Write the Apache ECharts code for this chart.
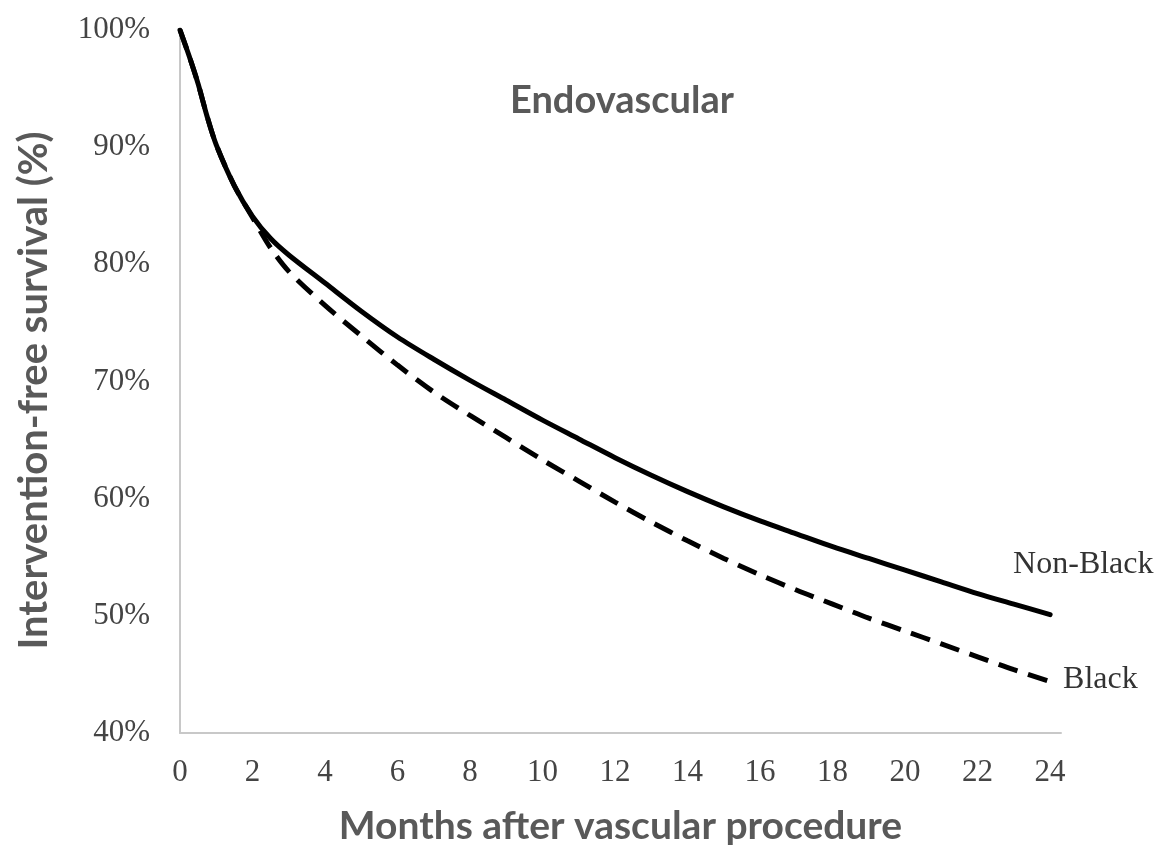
<!DOCTYPE html>
<html>
<head>
<meta charset="utf-8">
<script src="https://cdn.jsdelivr.net/npm/echarts@6/dist/echarts.min.js"></script>
<style>
  html, body { margin: 0; padding: 0; background: #fff; }
  #chart { width: 1164px; height: 849px; }
</style>
</head>
<body>
<div id="chart"></div>
<script>
// Months after the procedure at which survival is sampled
const months = [0, 0.25, 0.5, 0.75, 1, 1.5, 2, 2.5, 3, 4, 5, 6, 7, 8, 9, 10, 11, 12,
                13, 14, 15, 16, 17, 18, 19, 20, 21, 22, 23, 24];

// Intervention-free survival (%) by group
const nonBlack = [100, 97.8, 95.4, 92.6, 90.2, 86.7, 84.1, 82.2, 80.8, 78.4, 76.0, 73.8,
                  71.9, 70.1, 68.4, 66.7, 65.1, 63.5, 62.0, 60.6, 59.3, 58.1, 57.0, 55.9,
                  54.9, 53.9, 52.9, 51.9, 51.0, 50.1];
const black    = [100, 97.8, 95.4, 92.6, 90.2, 86.7, 84.0, 81.4, 79.4, 76.5, 73.9, 71.4,
                  69.1, 67.1, 65.2, 63.3, 61.5, 59.7, 58.0, 56.4, 54.9, 53.5, 52.2, 51.0,
                  49.8, 48.7, 47.6, 46.5, 45.4, 44.4];

// Axis ticks
const xTicks = [0, 2, 4, 6, 8, 10, 12, 14, 16, 18, 20, 22, 24];
const yTicks = [40, 50, 60, 70, 80, 90, 100];

const toPairs = (vals) => months.map((m, i) => [m, vals[i]]);

const serif = '"Liberation Serif", "DejaVu Serif", serif';
const sans = 'Lato, "Open Sans", "Noto Sans", sans-serif';

const chart = echarts.init(document.getElementById('chart'));
chart.setOption({
  animation: false,
  backgroundColor: '#ffffff',
  title: {
    text: 'Endovascular',
    left: 505,
    top: 77,
    textStyle: { fontFamily: sans, fontSize: 38, fontWeight: 'bold', color: '#595959' }
  },
  grid: { left: 180, right: 103, top: 30, bottom: 116, outerBoundsMode: 'none' },
  xAxis: {
    type: 'value',
    min: xTicks[0],
    max: 24.3,
    interval: 2,
    name: 'Months after vascular procedure',
    nameLocation: 'middle',
    nameGap: 74,
    nameTextStyle: { fontFamily: sans, fontSize: 39, fontWeight: 'bold', color: '#595959' },
    axisLine: { show: true, lineStyle: { color: '#c8c8c8', width: 2 } },
    axisTick: { show: false },
    splitLine: { show: false },
    axisLabel: {
      showMaxLabel: false,
      margin: 24,
      fontFamily: serif,
      fontSize: 31,
      color: '#444',
      formatter: (v) => (xTicks.includes(v) ? String(v) : '')
    }
  },
  yAxis: {
    type: 'value',
    min: yTicks[0],
    max: yTicks[yTicks.length - 1],
    interval: 10,
    name: 'Intervention-free survival (%)',
    nameLocation: 'middle',
    nameRotate: 90,
    nameGap: 126,
    nameTextStyle: {
      fontFamily: sans, fontSize: 40, fontWeight: 'bold', color: '#595959',
      padding: [0, 18, 0, 0]
    },
    axisLine: { show: true, lineStyle: { color: '#c8c8c8', width: 2 } },
    axisTick: { show: false },
    splitLine: { show: false },
    axisLabel: {
      margin: 30,
      fontFamily: serif,
      fontSize: 31,
      color: '#444',
      formatter: '{value}%'
    }
  },
  series: [
    {
      name: 'Black',
      type: 'line',
      data: toPairs(black),
      smooth: 0.3,
      showSymbol: false,
      lineStyle: { color: '#000', width: 5, type: [20, 11] },
      endLabel: {
        show: true,
        formatter: '{a}',
        offset: [5, -2],
        fontFamily: serif,
        fontSize: 32,
        color: '#333'
      },
      z: 2
    },
    {
      name: 'Non-Black',
      type: 'line',
      data: toPairs(nonBlack),
      smooth: 0.3,
      showSymbol: false,
      lineStyle: { color: '#000', width: 5, type: 'solid', cap: 'round' },
      endLabel: {
        show: true,
        formatter: '{a}',
        offset: [-45, -50],
        fontFamily: serif,
        fontSize: 32,
        color: '#333'
      },
      z: 3
    }
  ]
});
</script>
</body>
</html>
